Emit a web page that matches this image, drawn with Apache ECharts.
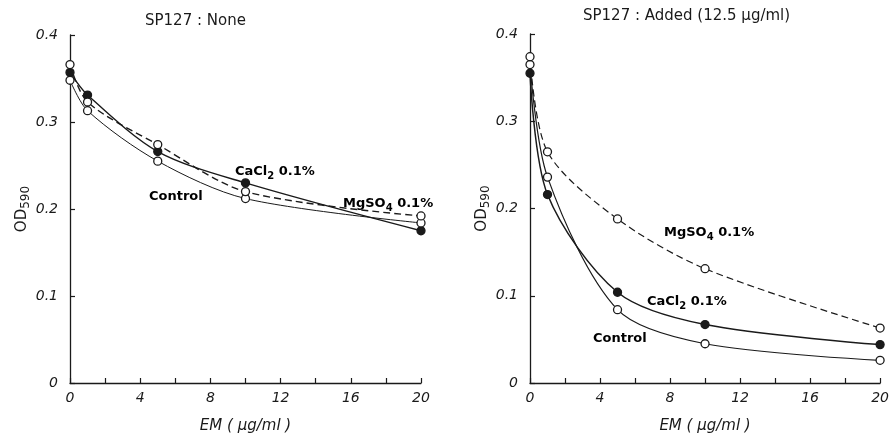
<!DOCTYPE html>
<html><head><meta charset="utf-8">
<script src="https://cdn.jsdelivr.net/npm/echarts@6/dist/echarts.min.js"></script>
<style>html,body{margin:0;padding:0;background:#fff}#c{width:892px;height:439px}</style>
</head><body><div id="c"></div>
<script>
// EM concentrations (µg/ml)
var em = [0, 1, 5, 10, 20];
// Left panel: SP127 none
var leftControl = [0.348, 0.313, 0.255, 0.212, 0.184];
var leftCaCl2   = [0.357, 0.331, 0.266, 0.230, 0.175];
var leftMgSO4   = [0.366, 0.323, 0.274, 0.220, 0.192];
// Right panel: SP127 added (12.5 µg/ml)
var rightControl = [0.365, 0.236, 0.084, 0.045, 0.026];
var rightCaCl2   = [0.355, 0.216, 0.104, 0.067, 0.044];
var rightMgSO4   = [0.374, 0.265, 0.188, 0.131, 0.063];
var yTicks = [0, 0.1, 0.2, 0.3, 0.4];
var xTicks = [0, 4, 8, 12, 16, 20];

function pairs(ys){ return em.map(function(x,i){return [x, ys[i]];}); }

var FONT = 'DejaVu Sans';
var INK = '#1a1a1a';
var rich = {
  a: {fontFamily: FONT, fontSize: 13, fontWeight: 'bold', color: INK, verticalAlign: 'top'},
  s: {fontFamily: FONT, fontSize: 10, fontWeight: 'bold', color: INK, verticalAlign: 'top', padding: [6,0,0,0]}
};

function xAxis(gi){
  return {type:'value', gridIndex:gi, min:0, max:20, interval:2,
    axisLine:{lineStyle:{color:INK, width:1.3}},
    axisTick:{inside:true, length:5, lineStyle:{color:INK, width:1.2}},
    splitLine:{show:false},
    axisLabel:{fontFamily:FONT, fontSize:14, color:INK, fontStyle:'italic', margin:8,
      formatter:function(v){ return xTicks.indexOf(v) >= 0 ? String(v) : ''; }},
    name:'EM ( μg/ml )', nameLocation:'middle', nameGap:36,
    nameTextStyle:{fontFamily:FONT, fontSize:15, color:INK, fontStyle:'italic'}
  };
}
function yAxis(gi){
  return {type:'value', gridIndex:gi, min:0, max:0.4, interval:0.1,
    axisLine:{show:true, lineStyle:{color:INK, width:1.3}},
    axisTick:{show:true, inside:true, length:5, lineStyle:{color:INK, width:1.2}},
    splitLine:{show:false},
    axisLabel:{fontFamily:FONT, fontSize:14, color:INK, fontStyle:'italic', margin:12,
      formatter:function(v){ var t = yTicks.filter(function(k){return Math.abs(k-v)<1e-9;}); return t.length ? (v===0?'0':v.toFixed(1)) : ''; }},
    name:'{a|OD}{s|590}', nameLocation:'middle', nameGap:38, nameRotate:90,
    nameTextStyle:{rich:{
      a:{fontFamily:FONT, fontSize:15, color:INK, verticalAlign:'top'},
      s:{fontFamily:FONT, fontSize:12, color:INK, verticalAlign:'top', padding:[5,0,0,0]}
    }}
  };
}
function ser(name, data, gi, filled, dashed, w){
  return {name:name, type:'line', xAxisIndex:gi, yAxisIndex:gi, data:pairs(data),
    smooth:0.3, symbol:'circle', symbolSize:8, showSymbol:true,
    itemStyle:{color: filled ? INK : '#fff', borderColor:INK, borderWidth:1.3},
    lineStyle:{color:INK, width:w, type: dashed ? [7,4] : 'solid'},
    z: filled ? 3 : 4
  };
}

var chart = echarts.init(document.getElementById('c'), null, {renderer:'canvas'});
chart.setOption({
  backgroundColor:'#fff',
  animation:false,
  grid:[
    {left:70, right:471, top:35, bottom:50},
    {left:530, right:9, top:34, bottom:51}
  ],
  xAxis:[xAxis(0), xAxis(1)],
  yAxis:[yAxis(0), yAxis(1)],
  series:[
    ser('Control', leftControl, 0, false, false, 1),
    ser('CaCl2', leftCaCl2, 0, true, false, 1.4),
    ser('MgSO4', leftMgSO4, 0, false, true, 1.4),
    ser('Control', rightControl, 1, false, false, 1.2),
    ser('CaCl2', rightCaCl2, 1, true, false, 1.5),
    ser('MgSO4', rightMgSO4, 1, false, true, 1.2)
  ],
  graphic:[
    {type:'text', left:145, top:14, style:{text:'SP127 : None', fontFamily:FONT, fontSize:15, fill:INK}},
    {type:'text', left:583, top:9, style:{text:'SP127 : Added (12.5 μg/ml)', fontFamily:FONT, fontSize:15, fill:INK}},
    {type:'text', left:235, top:165, style:{text:'{a|CaCl}{s|2}{a| 0.1%}', rich:rich}},
    {type:'text', left:149, top:190, style:{text:'{a|Control}', rich:rich}},
    {type:'text', left:343, top:197, style:{text:'{a|MgSO}{s|4}{a| 0.1%}', rich:rich}},
    {type:'text', left:664, top:226, style:{text:'{a|MgSO}{s|4}{a| 0.1%}', rich:rich}},
    {type:'text', left:647, top:295, style:{text:'{a|CaCl}{s|2}{a| 0.1%}', rich:rich}},
    {type:'text', left:593, top:332, style:{text:'{a|Control}', rich:rich}}
  ]
});
</script></body></html>
